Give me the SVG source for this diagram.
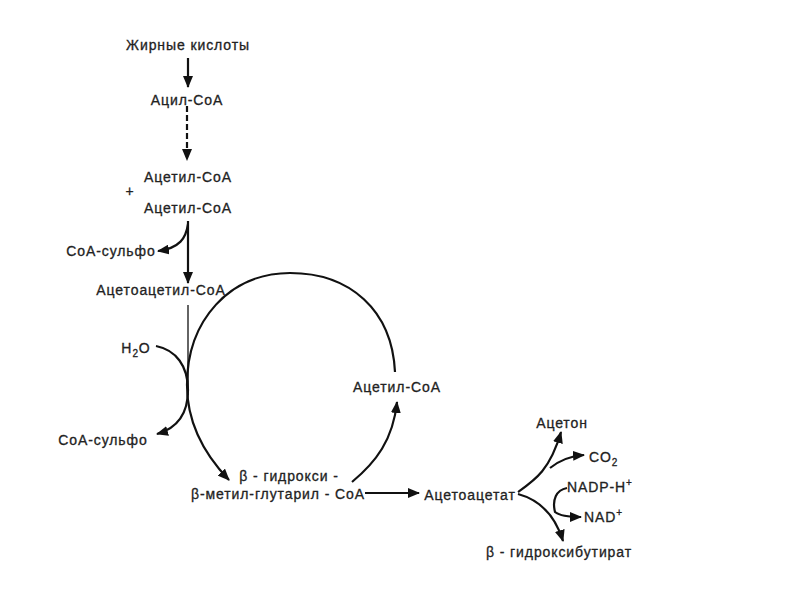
<svg xmlns="http://www.w3.org/2000/svg" width="800" height="600" viewBox="0 0 800 600">
<defs>
<style>
text{font-family:"Liberation Sans",Arial,sans-serif;font-size:14px;fill:#222;stroke:#222;stroke-width:0.3;letter-spacing:0.9px}
.c{stroke:#111;fill:none;stroke-width:2.2}
.t{stroke:#111;fill:none;stroke-width:1.3}
</style>
<marker id="ah" viewBox="0 0 12 10" refX="11" refY="5" markerWidth="12" markerHeight="10" markerUnits="userSpaceOnUse" orient="auto">
<path d="M0,0 L12,5 L0,10 Z" fill="#111"/>
</marker>
</defs>
<rect width="800" height="600" fill="#fff"/>
<g id="connectors">
<line class="c" x1="188" y1="58" x2="188" y2="87" marker-end="url(#ah)"/>
<line class="c" x1="187" y1="106" x2="187" y2="160" stroke-dasharray="6,3" marker-end="url(#ah)"/>
<line class="c" x1="188" y1="221" x2="188" y2="283" marker-end="url(#ah)"/>
<path class="c" d="M188 224 C186 238 180 248 158 251" marker-end="url(#ah)"/>
<line class="t" x1="188" y1="305" x2="188" y2="395"/>
<path class="c" d="M156 346 C176 350 188 366 188 390 C188 414 178 428 157 434" marker-end="url(#ah)"/>
<path class="c" d="M395 372 C392 310 350 273 290 273 C230 273 187 320 187 385 C187 425 205 455 229 480" marker-end="url(#ah)"/>
<path class="c" d="M352 482 C376 462 393 440 397 402" marker-end="url(#ah)"/>
<line class="c" x1="365" y1="493" x2="419" y2="493" marker-end="url(#ah)"/>
<path class="c" d="M518 492 C535 480 550 470 561 432" marker-end="url(#ah)"/>
<path class="c" d="M550 468 C560 460 570 456 584 455" marker-end="url(#ah)"/>
<path class="c" d="M518 494 C540 500 555 515 563 541" marker-end="url(#ah)"/>
<path class="c" d="M567 488 C556 490 552 500 555 512 C560 516 568 517 581 517" marker-end="url(#ah)"/>
</g>
<g id="n1"><text x="188" y="50" text-anchor="middle">Жирные кислоты</text></g>
<g id="n2"><text x="187" y="105" text-anchor="middle">Ацил-CoA</text></g>
<g id="n3"><text x="188" y="182" text-anchor="middle">Ацетил-CoA</text></g>
<g id="n4"><text x="130" y="196" text-anchor="middle">+</text></g>
<g id="n5"><text x="188" y="213" text-anchor="middle">Ацетил-CoA</text></g>
<g id="n6"><text x="111" y="256" text-anchor="middle">CoA-сульфо</text></g>
<g id="n7"><text x="161" y="295" text-anchor="middle">Ацетоацетил-CoA</text></g>
<g id="n8"><text x="136" y="353" text-anchor="middle">H<tspan font-size="10" dy="4">2</tspan><tspan dy="-4">O</tspan></text></g>
<g id="n9"><text x="103" y="445" text-anchor="middle">CoA-сульфо</text></g>
<g id="n10"><text x="397" y="392" text-anchor="middle">Ацетил-CoA</text></g>
<g id="n11"><text x="289" y="481" text-anchor="middle">β - гидрокси -</text><text x="278" y="499" text-anchor="middle">β-метил-глутарил - CoA</text></g>
<g id="n12"><text x="470" y="500" text-anchor="middle">Ацетоацетат</text></g>
<g id="n13"><text x="562" y="428" text-anchor="middle">Ацетон</text></g>
<g id="n14"><text x="589" y="462">CO<tspan font-size="10" dy="4">2</tspan></text></g>
<g id="n15"><text x="567" y="492">NADP-H<tspan font-size="10" dy="-6">+</tspan></text></g>
<g id="n16"><text x="584" y="522">NAD<tspan font-size="10" dy="-6">+</tspan></text></g>
<g id="n17"><text x="559" y="557" text-anchor="middle">β - гидроксибутират</text></g>
</svg>
